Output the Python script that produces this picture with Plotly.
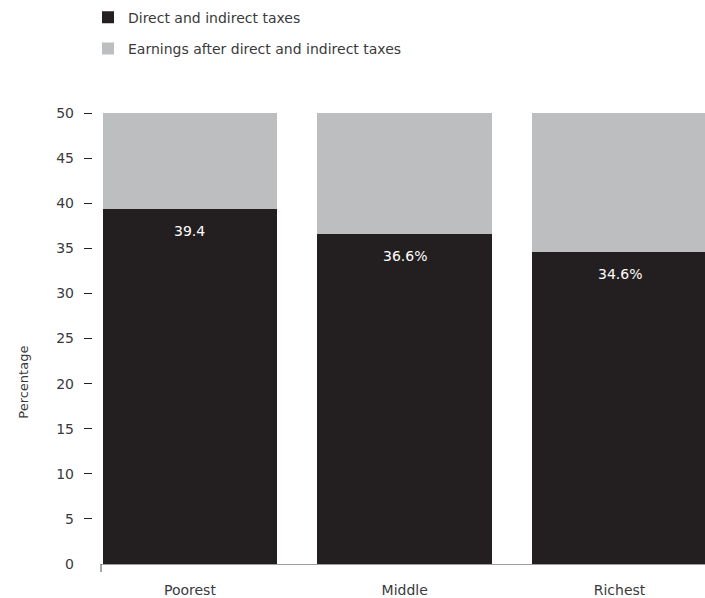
import plotly.graph_objects as go

# Share of income by group
groups = ["Poorest", "Middle", "Richest"]
taxes = [39.4, 36.6, 34.6]
earnings = [100 - t for t in taxes]
tax_labels = ["39.4", "36.6%", "34.6%"]
y_ticks = [0, 5, 10, 15, 20, 25, 30, 35, 40, 45, 50]

DARK = "#231f20"
GREY = "#bcbec0"
TEXT = "#3a3a3c"
FONT = "DejaVu Sans"

W, H = 705, 598
ML, MR, MT, MB = 0, 0, 113, 31
PW, PH = W - ML - MR, H - MT - MB

def px_x(px):
    return (px - ML) / PW

def px_y(py):
    return (H - MB - py) / PH

fig = go.Figure()
fig.add_bar(x=groups, y=taxes, name="Direct and indirect taxes",
            marker_color=DARK, marker_line_width=0, legendgroup="a")
fig.add_bar(x=groups, y=earnings, name="Earnings after direct and indirect taxes",
            marker_color=GREY, marker_line_width=0, legendgroup="b")

# value labels just inside the top of each dark bar
for g, v, t in zip(groups, taxes, tax_labels):
    fig.add_annotation(x=g, y=v, text=t, showarrow=False, yshift=-22,
                       font=dict(color="white", size=14, family=FONT))

fig.add_annotation(x=px_x(14), y=px_y(384), xref="paper", yref="paper",
                   text="Percentage", textangle=-90, showarrow=False,
                   font=dict(size=13, color=TEXT, family=FONT))

# small tick at the left end of the category axis
fig.add_shape(type="line", xref="x domain", yref="paper",
              x0=0, x1=0, y0=0, y1=-8 / PH,
              line=dict(color="#6d6e71", width=1.2))

fig.update_layout(
    width=W, height=H,
    margin=dict(l=ML, r=MR, t=MT, b=MB),
    barmode="stack", bargap=0.186,
    plot_bgcolor="white", paper_bgcolor="white",
    font=dict(family=FONT, size=14, color=TEXT),
    showlegend=True,
    legend=dict(x=px_x(88), y=px_y(1), xanchor="left", yanchor="top",
                traceorder="grouped", tracegroupgap=10,
                font=dict(size=14, color=TEXT, family=FONT),
                itemwidth=30, itemsizing="constant"),
    xaxis=dict(domain=[px_x(101), 1], range=[-0.414, 2.398],
               showline=True, linecolor="#9d9fa2", linewidth=1,
               ticks="", ticklabelstandoff=13, fixedrange=True,
               tickfont=dict(size=14, color=TEXT, family=FONT)),
    yaxis=dict(range=[0, 50], anchor="free", position=px_x(92),
               tickvals=y_ticks, ticks="", showgrid=False, zeroline=False,
               showline=False, ticklabelstandoff=18, automargin=False,
               tickfont=dict(size=14, color=TEXT, family=FONT)),
    yaxis2=dict(range=[0, 50], overlaying="y", anchor="free", position=px_x(92),
                side="left", tickvals=y_ticks[1:], ticks="outside", ticklen=8,
                tickwidth=1.2, tickcolor=DARK, showticklabels=False,
                showgrid=False, zeroline=False, showline=False, automargin=False),
)
# an invisible trace so the tick-only axis is rendered
fig.add_scatter(x=[groups[0]], y=[0], yaxis="y2", mode="markers",
                marker=dict(opacity=0), showlegend=False, hoverinfo="skip")

fig.write_html("out.html")
